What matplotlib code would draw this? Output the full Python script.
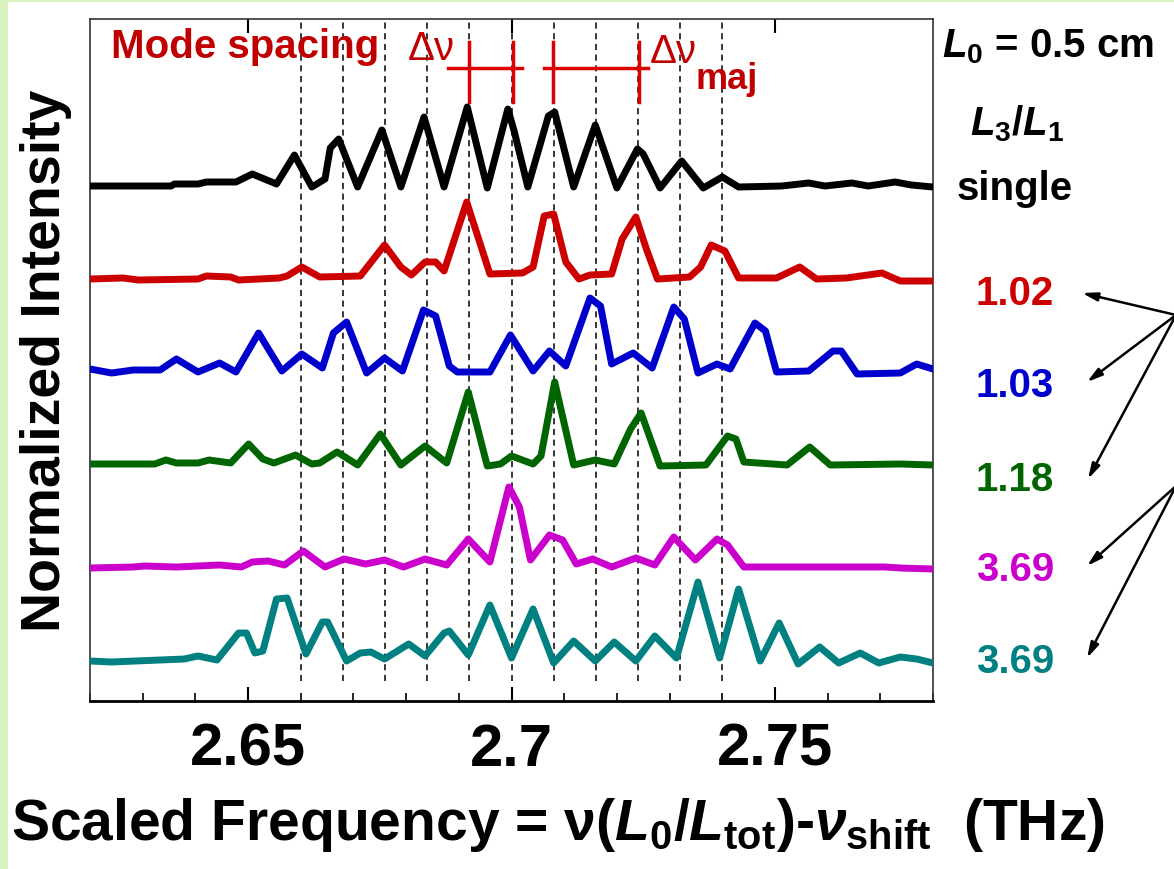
import matplotlib
matplotlib.use('Agg')
import matplotlib.pyplot as plt
from matplotlib.patches import Rectangle

plt.rcParams['font.family'] = ['Liberation Sans', 'DejaVu Sans']
plt.rcParams['mathtext.fontset'] = 'custom'
plt.rcParams['mathtext.rm'] = 'Liberation Sans:bold'
plt.rcParams['mathtext.it'] = 'Liberation Sans:italic:bold'
plt.rcParams['mathtext.bf'] = 'Liberation Sans:bold'

# spectra: scaled frequency (THz) and normalized intensity
x_black = [2.6200, 2.6354, 2.6360, 2.6405, 2.6421, 2.6477, 2.6508, 2.6554, 2.6588, 2.6621,
           2.6646, 2.6656, 2.6672, 2.6708, 2.6754, 2.6790, 2.6834, 2.6872, 2.6916, 2.6954,
           2.6993, 2.7005, 2.7031, 2.7070, 2.7082, 2.7118, 2.7159, 2.7200, 2.7239, 2.7250,
           2.7282, 2.7323, 2.7364, 2.7400, 2.7431, 2.7513, 2.7564, 2.7595, 2.7646, 2.7677,
           2.7728, 2.7759, 2.7800]
i_black = [0.00, 0.00, 0.02, 0.02, 0.04, 0.04, 0.12, 0.02, 0.31, -0.01,
           0.07, 0.38, 0.47, -0.01, 0.56, -0.01, 0.69, -0.01, 0.79, -0.02,
           0.77, 0.55, -0.01, 0.70, 0.74, -0.01, 0.61, -0.02, 0.37, 0.32,
           -0.02, 0.25, -0.02, 0.09, -0.01, 0.00, 0.03, 0.00, 0.03, 0.00,
           0.04, 0.01, -0.01]

x_red = [2.6200, 2.6262, 2.6292, 2.6405, 2.6421, 2.6467, 2.6482, 2.6559, 2.6574, 2.6602,
         2.6636, 2.6713, 2.6759, 2.6790, 2.6810, 2.6836, 2.6856, 2.6872, 2.6915, 2.6959,
         2.7021, 2.7041, 2.7062, 2.7080, 2.7103, 2.7128, 2.7149, 2.7190, 2.7210, 2.7236,
         2.7256, 2.7277, 2.7338, 2.7359, 2.7379, 2.7405, 2.7431, 2.7503, 2.7547, 2.7579,
         2.7636, 2.7703, 2.7738, 2.7800]
i_red = [0.00, 0.01, -0.01, 0.00, 0.03, 0.02, -0.01, 0.01, 0.03, 0.12,
         0.02, 0.03, 0.34, 0.12, 0.04, 0.17, 0.17, 0.08, 0.77, 0.05,
         0.06, 0.12, 0.63, 0.65, 0.17, 0.00, 0.04, 0.05, 0.40, 0.62,
         0.30, 0.00, 0.02, 0.12, 0.34, 0.28, 0.01, 0.01, 0.12, 0.00,
         0.01, 0.06, -0.02, -0.02]

x_blue = [2.6200, 2.6241, 2.6282, 2.6333, 2.6364, 2.6405, 2.6446, 2.6477, 2.6520, 2.6564,
          2.6602, 2.6641, 2.6662, 2.6687, 2.6725, 2.6759, 2.6793, 2.6833, 2.6856, 2.6882,
          2.6897, 2.6959, 2.6998, 2.7041, 2.7072, 2.7103, 2.7149, 2.7169, 2.7190, 2.7231,
          2.7267, 2.7308, 2.7328, 2.7354, 2.7390, 2.7415, 2.7462, 2.7482, 2.7503, 2.7564,
          2.7610, 2.7626, 2.7656, 2.7738, 2.7769, 2.7800]
i_blue = [0.02, -0.02, 0.01, 0.01, 0.12, -0.01, 0.08, -0.01, 0.38, 0.00,
          0.17, 0.03, 0.38, 0.49, -0.02, 0.13, 0.00, 0.61, 0.55, 0.05,
          -0.01, -0.01, 0.36, 0.00, 0.20, 0.05, 0.73, 0.65, 0.07, 0.18,
          0.03, 0.64, 0.52, -0.02, 0.07, 0.02, 0.48, 0.40, -0.01, 0.00,
          0.20, 0.20, -0.03, -0.02, 0.07, 0.02]

x_green = [2.6200, 2.6323, 2.6344, 2.6364, 2.6405, 2.6426, 2.6467, 2.6501, 2.6528, 2.6549,
           2.6590, 2.6621, 2.6636, 2.6669, 2.6708, 2.6751, 2.6790, 2.6836, 2.6877, 2.6918,
           2.6954, 2.6979, 2.7000, 2.7041, 2.7056, 2.7082, 2.7118, 2.7159, 2.7195, 2.7226,
           2.7246, 2.7282, 2.7369, 2.7410, 2.7426, 2.7441, 2.7523, 2.7566, 2.7605, 2.7738,
           2.7800]
i_green = [0.00, 0.00, 0.04, 0.01, 0.01, 0.04, 0.01, 0.20, 0.05, 0.01,
           0.09, 0.00, 0.01, 0.12, -0.01, 0.30, -0.01, 0.18, 0.01, 0.72,
           -0.02, 0.00, 0.08, 0.00, 0.08, 0.82, -0.01, 0.04, 0.00, 0.35,
           0.51, -0.02, -0.01, 0.28, 0.25, 0.02, -0.01, 0.17, -0.01, 0.00,
           -0.01]

x_magenta = [2.6200, 2.6282, 2.6303, 2.6364, 2.6446, 2.6487, 2.6508, 2.6538, 2.6569, 2.6605,
             2.6646, 2.6682, 2.6723, 2.6759, 2.6795, 2.6836, 2.6877, 2.6918, 2.6959, 2.6995,
             2.7015, 2.7036, 2.7072, 2.7097, 2.7123, 2.7154, 2.7190, 2.7236, 2.7272, 2.7308,
             2.7349, 2.7390, 2.7410, 2.7441, 2.7533, 2.7636, 2.7708, 2.7738, 2.7800]
i_magenta = [0.00, 0.01, 0.02, 0.01, 0.03, 0.01, 0.06, 0.07, 0.03, 0.17,
             0.01, 0.09, 0.04, 0.08, 0.01, 0.09, 0.03, 0.29, 0.06, 0.81,
             0.61, 0.08, 0.33, 0.28, 0.04, 0.09, 0.01, 0.10, 0.03, 0.31,
             0.08, 0.29, 0.23, 0.01, 0.01, 0.01, 0.01, 0.00, -0.01]

x_teal = [2.6200, 2.6241, 2.6333, 2.6379, 2.6405, 2.6441, 2.6482, 2.6497, 2.6513, 2.6528,
          2.6554, 2.6574, 2.6610, 2.6641, 2.6651, 2.6687, 2.6713, 2.6733, 2.6759, 2.6805,
          2.6836, 2.6872, 2.6882, 2.6918, 2.6959, 2.7000, 2.7041, 2.7080, 2.7118, 2.7159,
          2.7195, 2.7236, 2.7272, 2.7313, 2.7354, 2.7395, 2.7431, 2.7472, 2.7508, 2.7544,
          2.7585, 2.7621, 2.7662, 2.7697, 2.7738, 2.7769, 2.7800]
i_teal = [0.00, -0.01, 0.01, 0.02, 0.05, 0.01, 0.28, 0.28, 0.08, 0.10,
          0.62, 0.63, 0.07, 0.39, 0.39, 0.00, 0.08, 0.09, 0.02, 0.17,
          0.05, 0.28, 0.30, 0.06, 0.56, 0.03, 0.52, -0.02, 0.20, 0.00,
          0.19, 0.00, 0.25, 0.03, 0.79, 0.03, 0.72, 0.00, 0.38, -0.03,
          0.14, -0.02, 0.08, -0.02, 0.04, 0.02, -0.02]

ratio_labels = ['single', '1.02', '1.03', '1.18', '3.69', '3.69']
colors = ['#000000', '#cc0000', '#0000cc', '#006400', '#cc00cc', '#008080']

# cavity mode positions (dashed guides) and marker bars
mode_freqs = [2.660, 2.668, 2.676, 2.684, 2.692, 2.700, 2.708, 2.716, 2.724, 2.732, 2.740]
dv_marks = [2.6920, 2.7002]
dvmaj_marks = [2.7078, 2.7242]

xticks = [2.65, 2.70, 2.75]
xticklabels = ['2.65', '2.7', '2.75']

spectra = [(x_black, i_black), (x_red, i_red), (x_blue, i_blue),
           (x_green, i_green), (x_magenta, i_magenta), (x_teal, i_teal)]
offsets = [5.15, 4.22, 3.30, 2.37, 1.33, 0.40]

W, H = 1174, 870
fig = plt.figure(figsize=(W / 100, H / 100), dpi=100)
fig.patch.set_facecolor('white')
fig.patches.append(Rectangle((0, 0), 8 / W, 1, transform=fig.transFigure,
                             facecolor='#d8f2c0', edgecolor='none', zorder=-1))
fig.patches.append(Rectangle((0, 1 - 3 / H), 1, 3 / H, transform=fig.transFigure,
                             facecolor='#d8f2c0', edgecolor='none', zorder=-1))

ax = fig.add_axes([90 / W, 1 - 702 / H, 843 / W, 682 / H])
ax.set_xlim(2.62, 2.78)
ax.set_ylim(0, 6.82)

for f in mode_freqs:
    ax.axvline(f, ymin=0.03, ymax=1, color='black', lw=1.1, ls=(0, (4, 3)), zorder=1)

for (xs, ys), off, c in zip(spectra, offsets, colors):
    ax.plot(xs, [v + off for v in ys], color=c, lw=5, solid_joinstyle='round', zorder=3)

# mode spacing markers
bar_red = '#dd0000'
ax.plot([2.6880, 2.7019], [6.33, 6.33], color=bar_red, lw=2.5)
ax.plot([2.7061, 2.7260], [6.33, 6.33], color=bar_red, lw=2.5)
for f in dv_marks + dvmaj_marks:
    ax.plot([f, f], [5.99, 6.59], color=bar_red, lw=2.5)

txt_red = '#c00000'
ax.text(2.6239, 6.44, 'Mode spacing', color=txt_red, fontsize=29, fontweight='bold')
ax.text(2.6803, 6.42, 'Δν', color=txt_red, fontsize=29)
ax.text(2.7263, 6.39, 'Δν', color=txt_red, fontsize=29)
ax.text(2.7350, 6.13, 'maj', color=txt_red, fontsize=26, fontweight='bold')

ax.set_yticks([])
ax.set_xticks(xticks, xticklabels, fontsize=43, fontweight='bold')
ax.xaxis.set_minor_locator(matplotlib.ticker.MultipleLocator(0.01))
ax.tick_params(axis='x', which='major', direction='in', length=10, width=1.5,
               top=True, pad=15)
ax.tick_params(axis='x', which='minor', direction='in', length=6, width=1.2, top=False)
for side in ['top', 'right', 'left']:
    ax.spines[side].set_linewidth(1.2)
    ax.spines[side].set_color('#333333')
ax.spines['bottom'].set_linewidth(2)

fig.text(46 / W, 1 - 361 / H, 'Normalized Intensity', rotation=90, ha='center', va='center',
         fontsize=40, fontweight='bold')
fig.text(11 / W, 1 - 840 / H,
         r'Scaled Frequency = ν($L_0$/$L_{\mathrm{tot}}$)-$\nu_{\mathrm{shift}}$  (THz)',
         ha='left', va='baseline', fontsize=41, fontweight='bold')

# right-hand labels
fig.text(942 / W, 1 - 57 / H, r'$L_0$ = 0.5 cm', ha='left', va='baseline',
         fontsize=29, fontweight='bold')
fig.text(1017 / W, 1 - 135 / H, r'$L_3/L_1$', ha='center', va='baseline',
         fontsize=29, fontweight='bold')
label_base = [200, 305, 397, 491, 581, 673]
for lab, c, yb in zip(ratio_labels, colors, label_base):
    fig.text(1015 / W, 1 - yb / H, lab, color=c, ha='center', va='baseline',
             fontsize=29, fontweight='bold')

arrow_src = [(1176, 316), (1176, 316), (1176, 316), (1176, 487), (1176, 487)]
arrow_dst = [(1082, 294), (1087, 383), (1088, 480), (1087, 567), (1087, 659)]
for (sx, sy), (dx, dy) in zip(arrow_src, arrow_dst):
    ax.annotate('', xy=(dx, H - dy), xycoords='figure pixels',
                xytext=(sx, H - sy), textcoords='figure pixels',
                arrowprops=dict(arrowstyle='-|>,head_length=0.9,head_width=0.25',
                                color='black', lw=1.8, shrinkA=0, shrinkB=0),
                annotation_clip=False)

fig.savefig('out.png', dpi=100)
